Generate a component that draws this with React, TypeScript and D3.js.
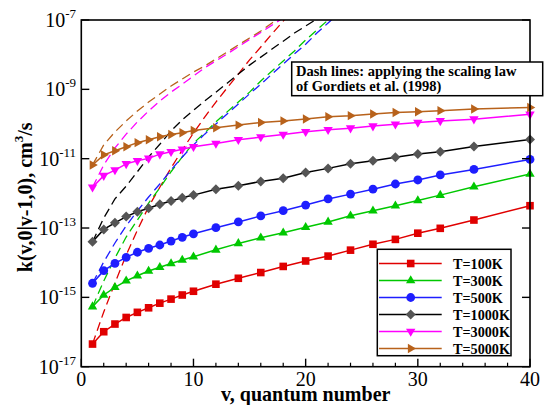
import React from "react";
import * as d3 from "d3";

const vSolid = [1, 2, 3, 4, 5, 6, 7, 8, 9, 10, 12, 14, 16, 18, 20, 22, 24, 26, 28, 30, 32, 35, 40];
const k100 = [4.5e-17, 1.02e-16, 1.7e-16, 2.63e-16, 3.7e-16, 5.0e-16, 6.8e-16, 8.9e-16, 1.17e-15, 1.5e-15, 2.4e-15, 3.55e-15, 5.2e-15, 7.8e-15, 1.12e-14, 1.55e-14, 2.3e-14, 3.4e-14, 4.7e-14, 7.1e-14, 9.8e-14, 1.7e-13, 4.4e-13];
const k300 = [5.4e-16, 1.17e-15, 1.95e-15, 3.0e-15, 4.2e-15, 5.75e-15, 7.4e-15, 9.5e-15, 1.2e-14, 1.48e-14, 2.35e-14, 3.6e-14, 5.25e-14, 7.3e-14, 1.05e-13, 1.5e-13, 2.26e-13, 3.16e-13, 4.4e-13, 6.2e-13, 8.9e-13, 1.55e-12, 3.6e-12];
const k500 = [2.55e-15, 5.9e-15, 9.5e-15, 1.43e-14, 2.0e-14, 2.6e-14, 3.24e-14, 4.2e-14, 5.4e-14, 6.8e-14, 1.02e-13, 1.5e-13, 2.24e-13, 3.16e-13, 4.6e-13, 6.9e-13, 9.5e-13, 1.32e-12, 1.86e-12, 2.43e-12, 3.4e-12, 4.9e-12, 9.5e-12];
const k1000 = [4.0e-14, 9.1e-14, 1.41e-13, 2.14e-13, 2.95e-13, 3.7e-13, 4.84e-13, 6.0e-13, 7.5e-13, 8.9e-13, 1.32e-12, 1.66e-12, 2.2e-12, 2.72e-12, 4.0e-12, 5.25e-12, 7.1e-12, 8.7e-12, 1.1e-11, 1.36e-11, 1.58e-11, 2.24e-11, 3.6e-11];
const k3000 = [1.5e-12, 3.24e-12, 4.7e-12, 7.1e-12, 8.7e-12, 1.02e-11, 1.35e-11, 1.58e-11, 1.86e-11, 2.2e-11, 2.75e-11, 3.5e-11, 4.2e-11, 5.0e-11, 6.0e-11, 6.8e-11, 7.6e-11, 8.7e-11, 9.8e-11, 1.1e-10, 1.23e-10, 1.38e-10, 1.9e-10];
const k5000 = [6.6e-12, 1.29e-11, 1.7e-11, 2.2e-11, 2.9e-11, 3.5e-11, 4.3e-11, 5.0e-11, 5.6e-11, 6.5e-11, 7.8e-11, 9.3e-11, 1.1e-10, 1.23e-10, 1.4e-10, 1.62e-10, 1.74e-10, 1.95e-10, 2.14e-10, 2.26e-10, 2.43e-10, 2.7e-10, 3.0e-10];

// dashed: scaling law of Gordiets et al.
const vDash = [1, 2, 3, 4, 5, 6, 7, 8, 9, 10, 11, 12, 13, 14, 15, 16, 17, 18, 19, 20, 21, 22, 23];
const d100 = [4.5e-17, 3.8e-16, 2.6e-15, 1.66e-14, 8.7e-14, 4.1e-13, 1.5e-12, 5.4e-12, 1.78e-11, 5.5e-11, 1.58e-10, 4.3e-10, 1.1e-9, 2.75e-9, 7.1e-9, 1.66e-8, 4.0e-8, 9.3e-8, 2.2e-7];
const d300 = [5.4e-16, 2.95e-15, 1.36e-14, 5.5e-14, 1.7e-13, 5.25e-13, 1.43e-12, 4.2e-12, 1.12e-11, 2.8e-11, 5.5e-11, 1.15e-10, 2.24e-10, 4.3e-10, 8.3e-10, 1.74e-9, 3.4e-9, 6.6e-9, 1.28e-8, 2.65e-8, 5.15e-8, 1e-7, 1.95e-7];
const d500 = [2.55e-15, 1.05e-14, 3.7e-14, 1.15e-13, 3.1e-13, 7.85e-13, 1.86e-12, 4.7e-12, 1.12e-11, 2.5e-11, 5.1e-11, 1.0e-10, 1.95e-10, 3.8e-10, 7.4e-10, 1.41e-9, 2.75e-9, 5.4e-9, 1.05e-8, 2.0e-8, 4.2e-8, 8.2e-8, 1.6e-7];
const d1000 = [4.0e-14, 1.95e-13, 6.9e-13, 1.62e-12, 4.2e-12, 1.12e-11, 2.6e-11, 6.3e-11, 1.32e-10, 2.5e-10, 4.6e-10, 8.3e-10, 1.51e-9, 2.75e-9, 5.0e-9, 8.5e-9, 1.45e-8, 2.45e-8, 4.2e-8, 6.7e-8, 1.07e-7, 1.7e-7];
const d3000 = [1.5e-12, 6.6e-12, 2.04e-11, 5.1e-11, 1.15e-10, 2.37e-10, 4.6e-10, 8.3e-10, 1.41e-9, 2.43e-9, 4.2e-9, 6.6e-9, 1.05e-8, 1.7e-8, 2.75e-8, 4.4e-8, 7.1e-8, 1.15e-7, 1.8e-7];
const d5000 = [6.6e-12, 2.5e-11, 5.9e-11, 1.22e-10, 2.37e-10, 4.3e-10, 7.3e-10, 1.25e-9, 1.99e-9, 3.16e-9, 4.7e-9, 7.5e-9, 1.19e-8, 1.9e-8, 3.03e-8, 4.8e-8, 8.2e-8, 1.49e-7];

const labels = ["T=100K", "T=300K", "T=500K", "T=1000K", "T=3000K", "T=5000K"];
const colors = ["#e00000", "#00c800", "#1e1eff", "#000000", "#ff00ff", "#b8621b"];
const markerFill = ["#e00000", "#00c800", "#1e1eff", "#555555", "#ff00ff", "#b8621b"];
const markerTypes = ["square", "triUp", "circle", "diamond", "triDown", "triRight"];
const solidSeries = [k100, k300, k500, k1000, k3000, k5000];
const dashSeries = [d100, d300, d500, d1000, d3000, d5000];

const xMajor = [0, 10, 20, 30, 40];
const xMinor = [2, 4, 6, 8, 12, 14, 16, 18, 22, 24, 26, 28, 32, 34, 36, 38];
const yExps = [-7, -9, -11, -13, -15, -17];

const W = 544;
const H = 405;
const L = 81.3, R = 530, T = 20, B = 366.7;
const FONT = '"Liberation Serif", "Times New Roman", "DejaVu Serif", serif';
const fs = { fontFamily: FONT };

function markerPath(type: string): string {
  switch (type) {
    case "square":
      return "M-3.8,-3.8H3.8V3.8H-3.8Z";
    case "triUp":
      return "M0,-5.3L4.7,2.8L-4.7,2.8Z";
    case "triDown":
      return "M0,5.3L4.7,-2.8L-4.7,-2.8Z";
    case "triRight":
      return "M5.3,0L-2.8,4.7L-2.8,-4.7Z";
    case "diamond":
      return "M0,-5L5,0L0,5L-5,0Z";
    default:
      return "";
  }
}

function Marker({ type, x, y, fill }: { type: string; x: number; y: number; fill: string }) {
  if (type === "circle") return <circle cx={x} cy={y} r={4.4} fill={fill} />;
  return <path d={markerPath(type)} transform={`translate(${x},${y})`} fill={fill} />;
}

export default function App() {
  const x = d3.scaleLinear().domain([0, 40]).range([L, R]);
  const y = d3.scaleLog().domain([1e-17, 1e-7]).range([B, T]);
  const line = d3
    .line<[number, number]>()
    .x((d) => x(d[0]))
    .y((d) => y(d[1]));

  const legX = 377.3, legY = 249.3, legW = 133.7, legH = 106.4;

  return (
    <div style={{ position: "absolute", left: 0, top: 0 }}>
      <svg width={W} height={H} style={{ display: "block", fontFamily: FONT }}>
        <rect x={0} y={0} width={W} height={H} fill="#ffffff" />
        <defs>
          <clipPath id="plotClip">
            <rect x={L} y={T} width={R - L} height={B - T} />
          </clipPath>
        </defs>

        <g clipPath="url(#plotClip)">
          {dashSeries.map((s, i) => (
            <path
              key={"d" + i}
              d={line(s.map((val, j) => [vDash[j], val] as [number, number])) || ""}
              fill="none"
              stroke={colors[i]}
              strokeWidth={1.3}
              strokeDasharray="9,5"
            />
          ))}
        </g>

        {solidSeries.map((s, i) => (
          <path
            key={"s" + i}
            d={line(s.map((val, j) => [vSolid[j], val] as [number, number])) || ""}
            fill="none"
            stroke={colors[i]}
            strokeWidth={1.5}
          />
        ))}
        {solidSeries.map((s, i) => (
          <g key={"m" + i}>
            {s.map((val, j) => (
              <Marker key={j} type={markerTypes[i]} x={x(vSolid[j])} y={y(val)} fill={markerFill[i]} />
            ))}
          </g>
        ))}

        <rect x={L} y={T} width={R - L} height={B - T} fill="none" stroke="#000" strokeWidth={1.6} />

        {xMajor.map((t) => (
          <g key={"xt" + t}>
            <line x1={x(t)} x2={x(t)} y1={B} y2={B - 8} stroke="#000" strokeWidth={1.4} />
            <text x={x(t)} y={385.5} fontSize={20} textAnchor="middle" style={fs}>
              {t}
            </text>
          </g>
        ))}
        {xMinor.map((t) => (
          <line key={"xm" + t} x1={x(t)} x2={x(t)} y1={B} y2={B - 4} stroke="#000" strokeWidth={1.2} />
        ))}

        {yExps.map((e) => {
          const yy = y(Math.pow(10, e));
          return (
            <g key={"yt" + e}>
              <line x1={L} x2={L + 8} y1={yy} y2={yy} stroke="#000" strokeWidth={1.4} />
              <line x1={R} x2={R - 8} y1={yy} y2={yy} stroke="#000" strokeWidth={1.4} />
              <text x={76} y={yy + 7} fontSize={20} textAnchor="end" style={fs}>
                10
                <tspan fontSize={13} dy={-9}>
                  {String(e)}
                </tspan>
              </text>
            </g>
          );
        })}

        <text x={(L + R) / 2} y={400.5} fontSize={20} fontWeight="bold" textAnchor="middle" style={fs}>
          v, quantum number
        </text>
        <text
          transform={`translate(32,${(T + B) / 2 + 4}) rotate(-90)`}
          fontSize={20}
          fontWeight="bold"
          textAnchor="middle"
          style={fs}
        >
          k(v,0|v-1,0), cm
          <tspan fontSize={13} dy={-9}>
            3
          </tspan>
          <tspan dy={9}>/s</tspan>
        </text>

        <rect x={291.7} y={62} width={251} height={33.7} fill="#fff" stroke="#000" strokeWidth={1.5} />
        <text x={296} y={76} fontSize={14.5} fontWeight="bold" style={fs}>
          Dash lines: applying the scaling law
        </text>
        <text x={296} y={90.7} fontSize={14.5} fontWeight="bold" style={fs}>
          of Gordiets et al. (1998)
        </text>

        <rect x={legX} y={legY} width={legW} height={legH} fill="#fff" stroke="#000" strokeWidth={1.5} />
        {labels.map((lab, i) => {
          const ry = 263.5 + i * 17;
          return (
            <g key={"lg" + i}>
              <line x1={379} x2={441.7} y1={ry} y2={ry} stroke={colors[i]} strokeWidth={1.5} />
              <Marker type={markerTypes[i]} x={410.7} y={ry} fill={markerFill[i]} />
              <text x={453} y={ry + 5.2} fontSize={14.2} fontWeight="bold" style={fs}>
                {lab}
              </text>
            </g>
          );
        })}
      </svg>
    </div>
  );
}
